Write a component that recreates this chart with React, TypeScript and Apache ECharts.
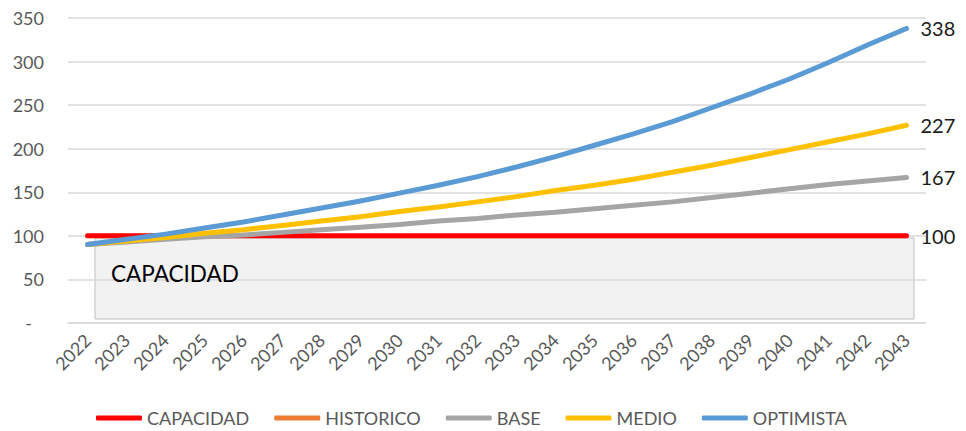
import React, { useEffect, useRef } from "react";
import * as echarts from "echarts";

const years = ["2022","2023","2024","2025","2026","2027","2028","2029","2030","2031","2032","2033","2034","2035","2036","2037","2038","2039","2040","2041","2042","2043"];
const capacidad = [100,100,100,100,100,100,100,100,100,100,100,100,100,100,100,100,100,100,100,100,100,100];
const historico: (number | null)[] = [null,null,null,null,null,null,null,null,null,null,null,null,null,null,null,null,null,null,null,null,null,null];
const base = [90,93,96,99,101,104,107,110,113,117,120,124,127,131,135,139,144,149,154,159,163,167];
const medio = [90,94,98,103,107,112,117,122,128,133,139,145,152,158,165,173,181,190,199,208,217,227];
const optimista = [90,96,102,109,116,124,132,140,149,158,168,179,191,204,217,231,247,263,280,299,319,338];

const FONT = "Lato, 'Liberation Sans', sans-serif";

export default function App() {
  const ref = useRef<HTMLDivElement>(null);
  useEffect(() => {
    document.body.style.margin = "0";
    const chart = echarts.init(ref.current!, null, { renderer: "svg" });
    const mk = (name: string, data: any[], color: string, z: number) => ({
      name,
      type: "line",
      data,
      z,
      symbol: "none",
      smooth: false,
      lineStyle: { color, width: 5, cap: "round", join: "round" },
      itemStyle: { color },
      endLabel: {
        show: true,
        distance: 14,
        color: "#1a1a1a",
        fontSize: 20,
        fontFamily: FONT,
        formatter: (p: any) => String(p.value),
      },
    });
    chart.setOption({
      animation: false,
      textStyle: { fontFamily: FONT },
      grid: { left: 68, right: 40, top: 18, bottom: 108, containLabel: false },
      graphic: [
        {
          type: "rect",
          z: -1,
          shape: { x: 95, y: 238, width: 819, height: 81 },
          style: { fill: "#f2f2f2", stroke: "#bfbfbf", lineWidth: 1 },
        },
        {
          type: "text",
          z: 10,
          x: 111,
          y: 262,
          style: { text: "CAPACIDAD", fill: "#000", fontSize: 22.5, fontFamily: FONT },
        },
      ],
      legend: {
        left: 96,
        top: 409,
        padding: 0,
        itemWidth: 46,
        itemHeight: 5,
        itemGap: 25,
        icon: "roundRect",
        textStyle: { color: "#595959", fontSize: 18, fontFamily: FONT },
        data: ["CAPACIDAD", "HISTORICO", "BASE", "MEDIO", "OPTIMISTA"],
      },
      xAxis: {
        type: "category",
        data: years,
        boundaryGap: true,
        axisLine: { lineStyle: { color: "#d9d9d9", width: 1.5 } },
        axisTick: { show: false },
        axisLabel: { rotate: 45, color: "#595959", fontSize: 18, margin: 14, fontFamily: FONT },
      },
      yAxis: {
        type: "value",
        min: 0,
        max: 350,
        interval: 50,
        axisLine: { show: false },
        axisTick: { show: false },
        splitLine: { lineStyle: { color: "#d9d9d9", width: 1.5 } },
        axisLabel: {
          color: "#595959",
          fontSize: 18,
          margin: 24,
          fontFamily: FONT,
          formatter: (v: number) => (v === 0 ? "{d|-}" : String(v)),
          rich: { d: { padding: [0, 12, 0, 0], color: "#595959", fontSize: 18, fontFamily: FONT } },
        },
      },
      series: [
        mk("CAPACIDAD", capacidad, "#ff0000", 2),
        { ...mk("HISTORICO", historico, "#ed7d31", 3), endLabel: { show: false } },
        mk("BASE", base, "#a5a5a5", 4),
        mk("MEDIO", medio, "#ffc000", 5),
        mk("OPTIMISTA", optimista, "#5b9bd5", 6),
      ],
    });
    return () => chart.dispose();
  }, []);
  return <div ref={ref} style={{ width: 966, height: 431 }} />;
}
